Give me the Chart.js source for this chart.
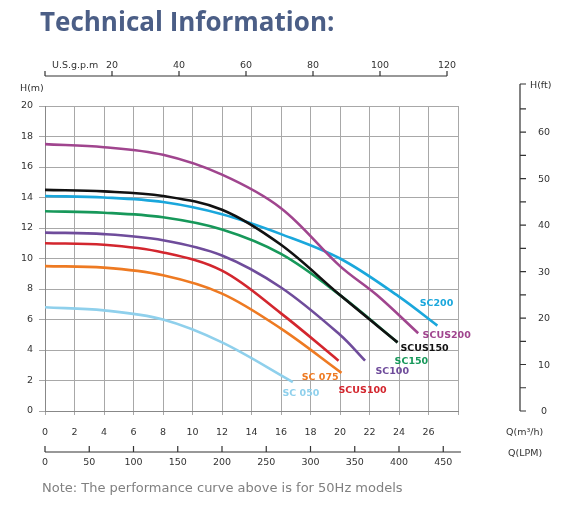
<!DOCTYPE html>
<html><head><meta charset="utf-8">
<script src="https://cdn.jsdelivr.net/npm/chart.js@4/dist/chart.umd.min.js"></script>
<style>html,body{margin:0;padding:0;background:#fff;overflow:hidden}#w{position:relative;width:573px;height:515px}canvas{position:absolute;left:0;top:0}</style>
</head><body><div id="w"><canvas id="c" width="573" height="515"></canvas></div>
<script>
const seriesNames=["SCUS200","SCUS150","SC200","SC150","SC100","SCUS100","SC 075","SC 050"];
const seriesColors=["#a0458e","#111111","#1aa7dc","#17985a","#6f4c9b","#d3262e","#ee7a22","#8fd0ec"];
const flowX=[
 [0,4,8,12,16,20,22.5,25.3],
 [0,4,8,12,16,20,23.9],
 [0,4,8,12,16,20,24,26.6],
 [0,4,8,12,16,20,23.9],
 [0,4,8,12,16,20,21.7],
 [0,4,8,12,16,19.9],
 [0,4,8,12,16,20.1],
 [0,4,8,12,16.8]];
const headY=[
 [17.5,17.3,16.8,15.5,13.3,9.5,7.6,5.1],
 [14.5,14.4,14.1,13.2,10.9,7.6,4.5],
 [14.1,14.0,13.7,12.9,11.6,10.0,7.5,5.6],
 [13.1,13.0,12.7,11.9,10.3,7.6,4.5],
 [11.7,11.6,11.2,10.2,8.1,5.0,3.3],
 [11.0,10.9,10.4,9.2,6.4,3.3],
 [9.5,9.4,8.9,7.7,5.4,2.5],
 [6.8,6.6,6.0,4.5,1.9]];
const labelX=[25.6,24.1,25.4,23.7,22.4,19.9,17.4,16.1];
const labelY=[5.0,4.1,7.1,3.3,2.6,1.4,2.2,1.2];
const gpmTicks=[20,40,60,80,100,120];
const lpmTicks=[0,50,100,150,200,250,300,350,400,450];
const ftTicks=[0,10,20,30,40,50,60];
const GPM=0.22712, LPM=1/16.6667, FT=1/3.28084;

const datasets=seriesNames.map((n,i)=>({label:n,data:flowX[i].map((x,j)=>({x,y:headY[i][j]})),
 borderColor:seriesColors[i],borderWidth:2.6,pointRadius:0,showLine:true,tension:0.35,fill:false}));

const F='"DejaVu Sans", sans-serif';
const extra={id:'extra',afterDraw(ch){
 const c=ch.ctx,x=ch.scales.x,y=ch.scales.y;
 c.save();
 c.fillStyle='#4b5e86';c.font='bold 26px "Open Sans", sans-serif';c.textBaseline='alphabetic';c.textAlign='left';
 c.fillText('Technical Information:',40,31);
 c.fillStyle='#808080';c.font='13px '+F;c.fillText('Note: The performance curve above is for 50Hz models',42,492);
 c.fillStyle='#333';c.font='9.5px '+F;
 c.fillText('H(m)',20,91);
 c.fillText('Q(m³/h)',506,435);
 c.fillText('Q(LPM)',508,456);
 c.fillText('U.S.g.p.m',52,68);
 c.fillText('H(ft)',530,88);
 c.strokeStyle='#333';c.lineWidth=1.2;
 c.beginPath();c.moveTo(x.getPixelForValue(0),76);c.lineTo(x.getPixelForValue(120*GPM),76);c.stroke();
 c.textAlign='center';
 c.beginPath();c.moveTo(x.getPixelForValue(0),76);c.lineTo(x.getPixelForValue(0),71);
 gpmTicks.forEach(g=>{const p=x.getPixelForValue(g*GPM);c.moveTo(p,76);c.lineTo(p,71);c.fillText(String(g),p,68);});c.stroke();
 c.beginPath();c.moveTo(x.getPixelForValue(0),452);c.lineTo(x.getPixelForValue(470*LPM),452);
 lpmTicks.forEach(l=>{const p=x.getPixelForValue(l*LPM);c.moveTo(p,452);c.lineTo(p,446);c.fillText(String(l),p,465);});c.stroke();
 const ax=520;
 c.beginPath();c.moveTo(ax,84);c.lineTo(ax,y.getPixelForValue(0));c.moveTo(ax,84);c.lineTo(ax+6,84);
 for(let f=0;f<=65;f+=5){const p=y.getPixelForValue(f*FT);c.moveTo(ax,p);c.lineTo(ax+6,p);}c.stroke();
 ftTicks.forEach(f=>{c.fillText(String(f),544,y.getPixelForValue(f*FT)+3);});
 c.textAlign='left';c.font='bold 9.5px '+F;
 seriesNames.forEach((n,i)=>{c.fillStyle=seriesColors[i];c.fillText(n,x.getPixelForValue(labelX[i]),y.getPixelForValue(labelY[i])+3);});
 c.restore();
}};

new Chart(document.getElementById('c'),{type:'scatter',data:{datasets},
 options:{responsive:false,animation:false,events:[],
  layout:{padding:{top:106,left:0,right:115,bottom:68}},
  plugins:{legend:{display:false},tooltip:{enabled:false}},
  scales:{
   x:{type:'linear',min:0,max:28,afterFit(s){s.height=36;},
    ticks:{stepSize:2,color:'#333',font:{size:9.5,family:F},padding:12,callback:v=>v===28?'':v},
    grid:{color:'#a8a8a8',lineWidth:1,tickLength:4},border:{color:'#888'}},
   y:{min:0,max:20,afterFit(s){s.width=45;},
    ticks:{stepSize:2,color:'#333',font:{size:9.5,family:F},padding:6},
    grid:{color:'#a8a8a8',lineWidth:1,tickLength:6},border:{color:'#888'}}
  }},plugins:[extra]});
</script></body></html>
